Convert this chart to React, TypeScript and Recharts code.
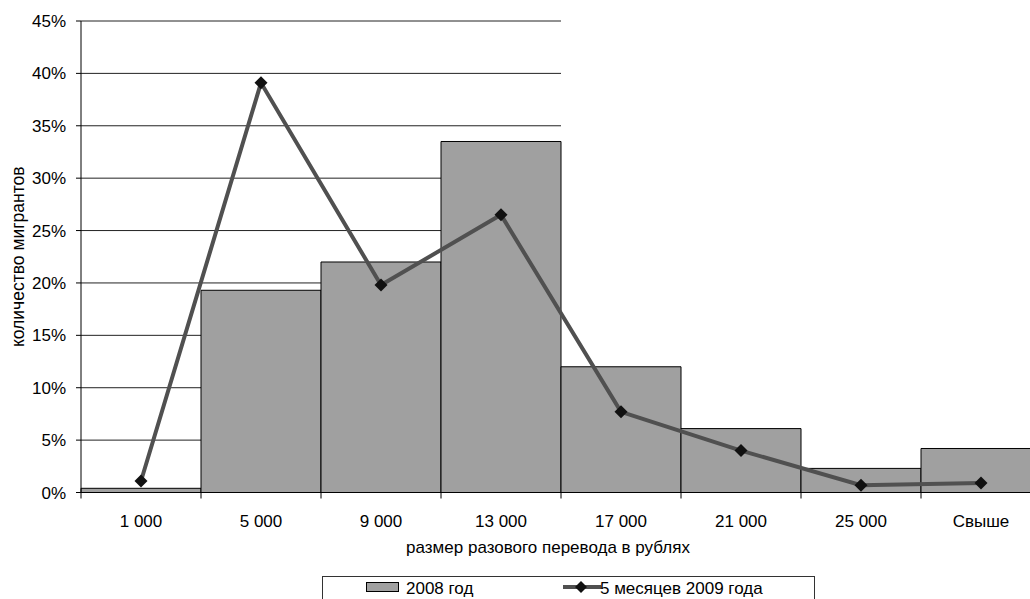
import React from "react";
import {
    ComposedChart,
    Bar,
    Line,
    XAxis,
    YAxis,
    CartesianGrid,
    Legend,
} from "recharts";

// категории размера перевода
const categories = ["1 000", "5 000", "9 000", "13 000", "17 000", "21 000", "25 000", "Свыше"];
// доля мигрантов, %
const share2008 = [0.4, 19.3, 22.0, 33.5, 12.0, 6.1, 2.3, 4.2];
const share2009 = [1.1, 39.1, 19.8, 26.5, 7.7, 4.0, 0.7, 0.9];
const yTicks = [0, 5, 10, 15, 20, 25, 30, 35, 40, 45];

const FONT = "'Liberation Sans', Arial, sans-serif";
const FS = 17;
const CHART_W = 1050;
const CHART_H = 599;
const MARGIN = { top: 21, right: 9, bottom: 26.5, left: 0 };
const Y_AXIS_W = 81;
const X_AXIS_H = 80;
const PLOT_W = CHART_W - MARGIN.left - MARGIN.right - Y_AXIS_W;
const HALF_BAND = PLOT_W / categories.length / 2;
const TICK = 6;
const GAP = 16;

const BAR_FILL = "#a0a0a0";
const LINE_COLOR = "#505050";

const data = categories.map((name, i) => ({
    name,
    y2008: share2008[i],
    y2009: share2009[i],
}));

function Diamond({ cx, cy }: any) {
    if (cx == null || cy == null) return null;
    const r = 6.5;
    return (
        <polygon
            points={`${cx},${cy - r} ${cx + r},${cy} ${cx},${cy + r} ${cx - r},${cy}`}
            fill="#111"
        />
    );
}

function XTick({ x, y, payload, index }: any) {
    const top = y - GAP - TICK;
    return (
        <g>
            <line x1={x - HALF_BAND} x2={x - HALF_BAND} y1={top} y2={top + TICK} stroke="#000" />
            {index === categories.length - 1 && (
                <line x1={x + HALF_BAND} x2={x + HALF_BAND} y1={top} y2={top + TICK} stroke="#000" />
            )}
            <text x={x} y={y} dy="0.71em" textAnchor="middle" fill="#000" fontSize={FS} fontFamily={FONT}>
                {payload.value}
            </text>
        </g>
    );
}

function LegendBox() {
    const text: React.CSSProperties = {
        position: "absolute",
        top: 2,
        fontSize: FS,
        fontFamily: FONT,
        color: "#000",
        whiteSpace: "nowrap",
    };
    return (
        <div
            style={{
                position: "relative",
                width: 493,
                height: 40,
                border: "1px solid #333",
                boxSizing: "border-box",
                background: "#fff",
            }}
        >
            <div
                style={{
                    position: "absolute",
                    left: 43,
                    top: 5,
                    width: 33,
                    height: 10,
                    background: BAR_FILL,
                    border: "1.5px solid #000",
                    boxSizing: "border-box",
                }}
            />
            <span style={{ ...text, left: 83 }}>2008 год</span>
            <svg style={{ position: "absolute", left: 240, top: 0 }} width={38} height={22}>
                <line x1={0} x2={38} y1={10} y2={10} stroke={LINE_COLOR} strokeWidth={4} />
                <polygon points="18,4 24,10 18,16 12,10" fill="#111" />
            </svg>
            <span style={{ ...text, left: 277 }}>5 месяцев 2009 года</span>
        </div>
    );
}

export default function App() {
    return (
        <div
            style={{
                position: "absolute",
                left: 0,
                top: 0,
                width: 1030,
                height: 599,
                overflow: "hidden",
                background: "#fff",
                fontFamily: FONT,
            }}
        >
            <ComposedChart
                width={CHART_W}
                height={CHART_H}
                data={data}
                margin={MARGIN}
                barCategoryGap={0}
                barGap={0}
            >
                <CartesianGrid
                    vertical={false}
                    horizontal={(p: any) => (
                        <line
                            key={p.key}
                            x1={p.x1}
                            y1={p.y1}
                            x2={p.x1 + (p.x2 - p.x1) / 2}
                            y2={p.y2}
                            stroke="#222"
                            strokeWidth={1}
                        />
                    )}
                />
                <XAxis
                    dataKey="name"
                    height={X_AXIS_H}
                    axisLine={{ stroke: "#000" }}
                    tickLine={false}
                    tickSize={TICK}
                    tickMargin={GAP}
                    interval={0}
                    tick={<XTick />}
                    label={{
                        value: "размер разового перевода в рублях",
                        position: "insideBottom",
                        offset: 20,
                        dx: -13,
                        style: { fontSize: FS, fill: "#000", fontFamily: FONT },
                    }}
                />
                <YAxis
                    width={Y_AXIS_W}
                    domain={[0, 45]}
                    ticks={yTicks}
                    interval={0}
                    tickFormatter={(v) => `${v}%`}
                    axisLine={{ stroke: "#000" }}
                    tickLine={{ stroke: "#000" }}
                    tickSize={5}
                    tickMargin={10}
                    tick={{ fill: "#000", fontSize: FS, fontFamily: FONT }}
                    label={{
                        value: "количество мигрантов",
                        angle: -90,
                        position: "insideLeft",
                        offset: 18,
                        style: { fontSize: 17.5, fill: "#000", fontFamily: FONT, textAnchor: "middle" },
                    }}
                />
                <Bar
                    dataKey="y2008"
                    name="2008 год"
                    fill={BAR_FILL}
                    stroke="#000"
                    strokeWidth={1}
                    isAnimationActive={false}
                />
                <Line
                    dataKey="y2009"
                    name="5 месяцев 2009 года"
                    type="linear"
                    stroke={LINE_COLOR}
                    strokeWidth={4}
                    dot={<Diamond />}
                    activeDot={false}
                    isAnimationActive={false}
                />
                <Legend
                    layout="horizontal"
                    verticalAlign="middle"
                    align="center"
                    wrapperStyle={{ position: "absolute", left: 322, top: 576, width: 493 }}
                    content={() => <LegendBox />}
                />
            </ComposedChart>
        </div>
    );
}
